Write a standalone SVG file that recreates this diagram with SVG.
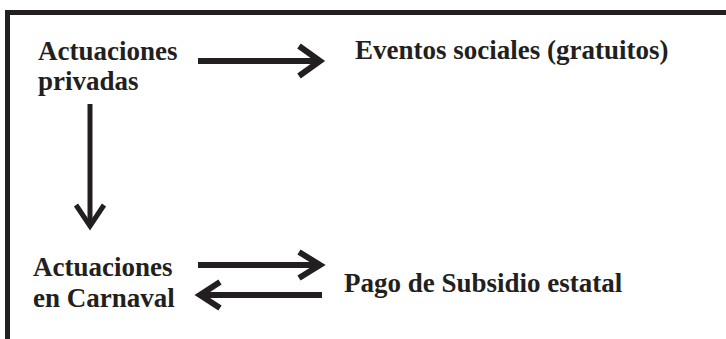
<svg xmlns="http://www.w3.org/2000/svg" width="726" height="339" viewBox="0 0 726 339">
<style>
.t{font-weight:bold;font-size:27px;fill:#231f20}
.ln{stroke:#231f20;fill:none;stroke-width:6}
.hd{stroke:#231f20;fill:none;stroke-width:6;stroke-linejoin:miter;stroke-miterlimit:10}
</style>
<rect width="726" height="339" fill="#fff"/>
<path d="M7.5 339V12.5H726" fill="none" stroke="#231f20" stroke-width="5"/>
<g font-family="'Liberation Serif', 'Times New Roman', Times, serif">
<g id="n-privadas"><text class="t" x="38" y="60">Actuaciones</text><text class="t" x="38" y="90">privadas</text></g>
<g id="n-eventos"><text class="t" x="355" y="59">Eventos sociales (gratuitos)</text></g>
<g id="n-carnaval"><text class="t" x="33" y="276">Actuaciones</text><text class="t" x="33" y="307">en Carnaval</text></g>
<g id="n-subsidio"><text class="t" x="344" y="292">Pago de Subsidio estatal</text></g>
</g>
<g id="connectors">
<path class="ln" d="M198 61H318"/><path class="hd" d="M299 46L320 61L299 76"/>
<path class="ln" d="M90 104V226" style="stroke-width:5"/><path class="hd" d="M76 205L90 226L104 205" style="stroke-width:5"/>
<path class="ln" d="M198 265H318"/><path class="hd" d="M299 252L320 265L299 278"/>
<path class="ln" d="M322 295H202"/><path class="hd" d="M220 282L200 295L220 308"/>
</g>
</svg>
